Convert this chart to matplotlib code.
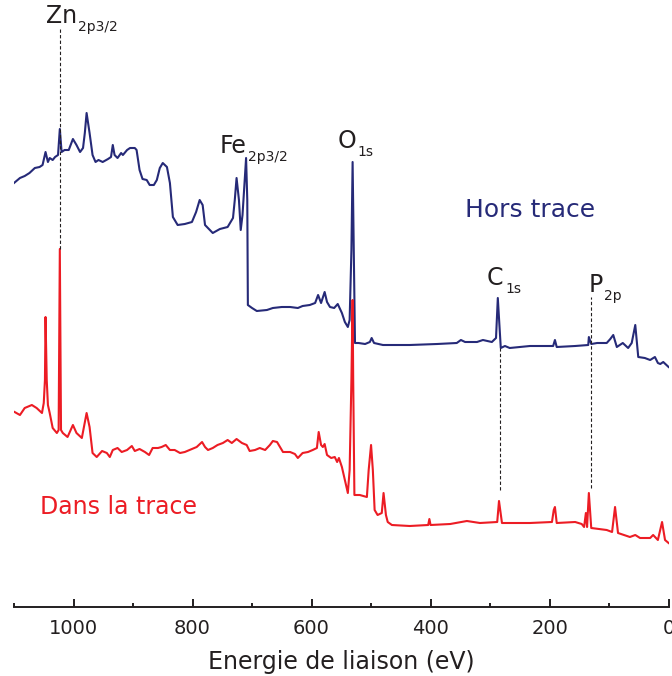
import matplotlib
matplotlib.use("Agg")
import matplotlib.pyplot as plt
from matplotlib.ticker import MultipleLocator

NAVY = "#262a78"
RED = "#ec1c24"
TXT = "#231f20"

# Hors trace (blue) -- binding energy (eV) and intensity (arb. units)
hors_ev = [1100, 1090, 1082, 1074, 1065, 1057, 1052, 1047, 1043, 1040,
           1035, 1031, 1026, 1023, 1020, 1015, 1008, 1001, 995, 989,
           984, 981, 978, 973, 968, 963, 958, 951, 942, 937,
           934, 931, 926, 920, 917, 910, 905, 897, 894, 889,
           884, 877, 872, 865, 860, 855, 850, 843, 838,
           833, 825, 813, 801, 794, 788, 783, 779, 771, 766,
           754, 741, 732, 729, 726, 722, 719, 716, 710, 708,
           707, 700, 692, 675, 665, 650, 636, 623, 615, 603,
           594, 589, 584, 578, 574, 569, 562, 556, 549, 544, 539, 536,
           533, 531, 529, 527, 521, 510, 502, 499, 495, 480,
           435, 389, 356, 349, 342, 322, 312, 297, 290, 287,
           282, 275, 267, 233, 194, 191, 188, 157, 135, 134,
           130, 120, 104, 98, 93, 87, 77, 68, 62, 56,
           51, 40, 31, 23, 18, 14, 9, 0]
hors_int = [438, 443, 445, 448, 453, 454, 456, 469, 459, 463,
            461, 464, 466, 492, 469, 471, 471, 482, 476, 469,
            473, 488, 508, 488, 466, 459, 461, 459, 462, 464,
            476, 466, 463, 468, 466, 471, 473, 473, 471, 451,
            442, 441, 436, 436, 441, 453, 458, 454, 438,
            404, 396, 397, 399, 409, 421, 416, 396, 391, 388,
            392, 394, 403, 421, 443, 421, 391, 406, 463, 421,
            316, 313, 310, 311, 313, 314, 314, 313, 315, 316,
            318, 326, 318, 329, 319, 314, 313, 317, 308, 299, 294, 301,
            371, 459, 371, 278, 278, 277, 279, 283, 278, 276,
            276, 277, 278, 281, 279, 279, 281, 279, 283, 323,
            273, 275, 273, 275, 275, 281, 274, 275, 276, 284,
            277, 278, 278, 282, 286, 274, 278, 273, 278, 296,
            264, 263, 261, 264, 258, 257, 259, 254]

# Dans la trace (red)
dans_ev = [1099, 1090, 1082, 1070, 1062, 1053, 1050, 1048, 1047, 1045, 1043, 1040,
           1035, 1028, 1025, 1023, 1021, 1018, 1010, 1001, 995, 986, 978, 973,
           968, 961, 952, 944, 939, 934, 926, 919, 910, 902,
           897, 889, 880, 873, 867, 858, 852, 845, 838, 830,
           821, 813, 805, 793, 784, 779, 774, 766, 758, 749,
           741, 734, 726, 717, 709, 704, 695, 687, 678, 670,
           665, 658, 653, 648, 636, 628, 623, 615, 606, 598,
           591, 588, 584, 581, 578, 574, 567, 561, 557, 554, 549,
           544, 539, 536, 533, 531, 530, 528, 519, 507, 504,
           500, 497, 494, 489, 482, 479, 475, 472, 465, 435,
           404, 402, 400, 367, 339, 317, 288, 285, 280, 233,
           196, 193, 191, 188, 157, 146, 142, 139, 137, 134,
           130, 104, 95, 90, 85, 65, 56, 48, 31, 26, 18, 11, 6, 0]
dans_int = [209, 206, 213, 216, 213, 208, 218, 241, 304, 241, 216, 208,
            193, 188, 191, 372, 191, 188, 184, 196, 188, 183, 208, 194,
            168, 164, 170, 168, 164, 171, 173, 169, 171, 175,
            170, 172, 169, 166, 173, 173, 174, 176, 171, 171,
            168, 169, 171, 174, 179, 174, 171, 173, 176, 178,
            181, 178, 182, 178, 176, 170, 171, 173, 171, 176,
            180, 179, 174, 169, 169, 167, 163, 168, 169, 171,
            173, 189, 176, 174, 177, 166, 163, 164, 159, 163, 154,
            141, 128, 151, 241, 321, 241, 126, 126, 124, 151,
            176, 151, 111, 106, 108, 128, 106, 99, 96, 95,
            96, 102, 96, 97, 100, 98, 99, 120, 98, 98,
            99, 111, 114, 98, 99, 97, 94, 108, 94, 128,
            93, 91, 89, 114, 88, 84, 86, 83, 83, 86, 81, 99, 81, 78]

# peak markers: energy, bottom and top of the dashed guide
guide_ev = [1023, 283, 130]
guide_lo = [372, 131, 133]
guide_hi = [593, 273, 324]

plt.rcParams["font.family"] = "DejaVu Sans"

fig = plt.figure(figsize=(6.72, 6.76), dpi=100)
ax = fig.add_axes([14 / 672, 69 / 676, 654.6 / 672, 607 / 676])

ax.plot(hors_ev, hors_int, color=NAVY, lw=1.5)
ax.plot(dans_ev, dans_int, color=RED, lw=1.5)

for e, lo, hi in zip(guide_ev, guide_lo, guide_hi):
    ax.plot([e, e], [lo, hi], color=TXT, lw=0.8, dashes=(3, 2))

ax.set_xlim(1100, 0)
ax.set_ylim(14, 621)


def peak_label(x, y, main, sub):
    t = ax.text(x, y, main, fontsize=17, ha="left", va="baseline", color=TXT)
    ax.annotate(sub, xy=(1, 0), xycoords=t, xytext=(1, -2),
                textcoords="offset points", fontsize=10, ha="left",
                va="baseline", color=TXT)


peak_label(1047, 598, "Zn", "2p3/2")
peak_label(754, 468, "Fe", "2p3/2")
peak_label(556, 473, "O", "1s")
peak_label(305, 336, "C", "1s")
peak_label(135, 329, "P", "2p")

ax.text(342, 404, "Hors trace", fontsize=18, color=NAVY, va="baseline")
ax.text(1057, 107, "Dans la trace", fontsize=17, color=RED, va="baseline")

for s in ["left", "right", "top"]:
    ax.spines[s].set_visible(False)
ax.spines["bottom"].set_linewidth(1.4)
ax.spines["bottom"].set_color(TXT)
ax.set_yticks([])
ax.xaxis.set_major_locator(MultipleLocator(200))
ax.xaxis.set_minor_locator(MultipleLocator(100))
ax.tick_params(axis="x", which="major", direction="in", length=6, width=1.4,
               color=TXT, labelsize=14, labelcolor=TXT, pad=9)
ax.tick_params(axis="x", which="minor", direction="in", length=3.2, width=1.4,
               color=TXT)
ax.set_xlabel("Energie de liaison (eV)", fontsize=17, color=TXT, labelpad=8)

fig.savefig("out.png", dpi=100)
